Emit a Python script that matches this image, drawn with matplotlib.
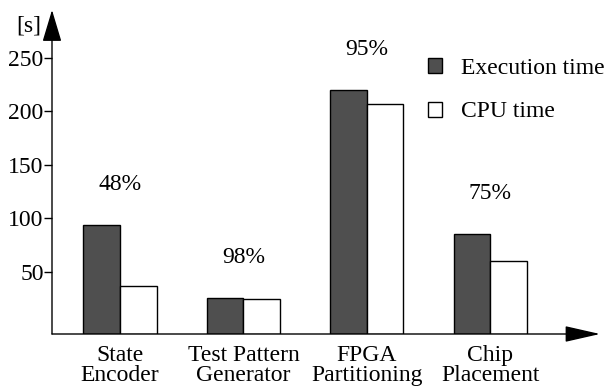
import matplotlib
matplotlib.use("Agg")
import matplotlib.pyplot as plt
from matplotlib.patches import Patch

# values (seconds)
categories = ["State\nEncoder", "Test Pattern\nGenerator", "FPGA\nPartitioning", "Chip\nPlacement"]
execution_time = [93.5, 25.2, 220.0, 85.3]
cpu_time = [36.7, 24.0, 206.5, 59.5]
usage = ["48%", "98%", "95%", "75%"]
y_ticks = [50, 100, 150, 200, 250]

plt.rcParams["font.family"] = ["Liberation Serif", "DejaVu Serif"]
plt.rcParams["font.size"] = 17

fig = plt.figure(figsize=(6.1, 3.88), dpi=100)
W, H = 610, 388
ax = fig.add_axes([52 / W, (H - 334) / H, (600 - 52) / W, (334 - 10) / H])

ymin, ymax = -8.4, 294.4
bar_w = 0.296
x = list(range(len(categories)))

ax.bar([i - bar_w / 2 for i in x], [v - ymin for v in execution_time], bar_w, bottom=ymin,
       color="#4f4f4f", edgecolor="black", linewidth=1, label="Execution time")
ax.bar([i + bar_w / 2 for i in x], [v - ymin for v in cpu_time], bar_w, bottom=ymin,
       color="white", edgecolor="black", linewidth=1, label="CPU time")

for i, txt in enumerate(usage):
    top = max(execution_time[i], cpu_time[i])
    ax.annotate(txt, (i, top), xytext=(0, 29), textcoords="offset points",
                ha="center", va="center")

ax.set_xlim(-0.551, 3.89)
ax.set_ylim(ymin, ymax)
ax.set_yticks(y_ticks)
ax.tick_params(axis="y", direction="out", length=6, width=1, pad=0)
ax.set_xticks(x)
ax.set_xticklabels(categories, linespacing=0.9)
ax.tick_params(axis="x", length=0, pad=8)

for s in ax.spines.values():
    s.set_visible(False)

# axis arrows
ax.annotate("", xy=(1, 0), xytext=(0, 0), xycoords="axes fraction",
            arrowprops=dict(arrowstyle="-|>,head_length=2.2,head_width=0.5",
                            mutation_scale=10, color="black", lw=1, shrinkA=0, shrinkB=0))
ax.annotate("", xy=(0, 1), xytext=(0, 0), xycoords="axes fraction",
            arrowprops=dict(arrowstyle="-|>,head_length=2.0,head_width=0.6",
                            mutation_scale=10, color="black", lw=1, shrinkA=0, shrinkB=0))
ax.annotate("[s]", (0, 1), xycoords="axes fraction", xytext=(-8, -4),
            textcoords="offset points", ha="right", va="top")

handles = [Patch(facecolor="#4f4f4f", edgecolor="black", linewidth=1),
           Patch(facecolor="white", edgecolor="black", linewidth=1)]
ax.legend(handles, ["Execution time", "CPU time"], loc="upper left",
          bbox_to_anchor=(428 / W, (H - 58) / H), bbox_transform=fig.transFigure,
          frameon=False, borderpad=0, borderaxespad=0, handlelength=0.6, handleheight=0.6,
          handletextpad=0.8, labelspacing=0.95)

fig.savefig("out.png", dpi=100)
